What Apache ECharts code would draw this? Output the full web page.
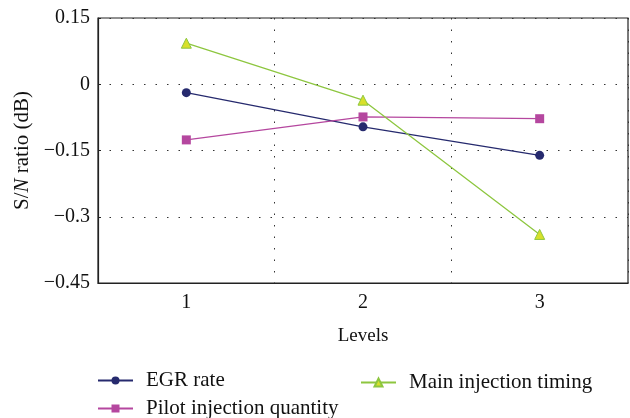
<!DOCTYPE html>
<html>
<head>
<meta charset="utf-8">
<script src="https://cdn.jsdelivr.net/npm/echarts@6/dist/echarts.min.js"></script>
<style>
  html, body { margin: 0; padding: 0; background: #fff; }
  #main { width: 630px; height: 418px; }
</style>
</head>
<body>
<div id="main"></div>
<script>
// levels on the x axis
var levels = ["1", "2", "3"];
// S/N ratio (dB) per level
var egrRate = [-0.019, -0.0965, -0.161];
var pilotQty = [-0.126, -0.074, -0.078];
var mainTiming = [0.093, -0.036, -0.34];
var yTicks = [-0.45, -0.3, -0.15, 0, 0.15];

var font = "Liberation Serif";
var myChart = echarts.init(document.getElementById("main"));

function lineSeries(name, data, color, symbol, size, fill) {
  return {
    name: name,
    type: "line",
    data: data,
    symbol: symbol,
    symbolSize: size,
    showSymbol: true,
    lineStyle: { color: color, width: 1.3 },
    itemStyle: { color: fill || color, borderColor: color, borderWidth: fill ? 1 : 0 },
    emphasis: { disabled: true },
    animation: false
  };
}

// one legend per item so the layout is two columns
function legendItem(name, left, top) {
  return {
    left: left, top: top, orient: "vertical",
    itemWidth: 35, itemHeight: 10,
    textStyle: { fontFamily: font, fontSize: 21, color: "#111", padding: [0, 0, 0, 8] },
    data: [name]
  };
}

myChart.setOption({
  textStyle: { fontFamily: font },
  grid: {
    left: 98, right: 2, top: 18, bottom: 135,
    show: true, borderColor: "#222", borderWidth: 1.2
  },
  legend: [
    legendItem("EGR rate", 92, 365),
    legendItem("Pilot injection quantity", 92, 393),
    legendItem("Main injection timing", 355, 367)
  ],
  xAxis: {
    type: "category",
    data: levels,
    boundaryGap: true,
    name: "Levels",
    nameLocation: "middle",
    nameGap: 44,
    nameTextStyle: { fontFamily: font, fontSize: 19, color: "#111" },
    axisLine: { onZero: false, lineStyle: { color: "#222", width: 1.2 } },
    axisTick: { inside: true, length: 3, lineStyle: { color: "#222" } },
    axisLabel: { fontFamily: font, fontSize: 20, color: "#111", margin: 10 },
    splitLine: { show: true, lineStyle: { color: "#333", type: [1.5, 10], width: 1 } }
  },
  yAxis: {
    type: "value",
    min: yTicks[0],
    max: yTicks[yTicks.length - 1],
    interval: 0.15,
    name: "{a|S/}{b|N}{a| ratio (dB)}",
    nameLocation: "middle",
    nameGap: 64,
    nameTextStyle: {
      rich: {
        a: { fontFamily: font, fontSize: 21, color: "#111" },
        b: { fontFamily: font, fontSize: 21, color: "#111", fontStyle: "italic" }
      }
    },
    axisLine: { show: true, lineStyle: { color: "#222", width: 1.2 } },
    axisTick: { show: true, inside: true, length: 3, lineStyle: { color: "#222" } },
    axisLabel: {
      fontFamily: font, fontSize: 20, color: "#111", margin: 8,
      formatter: function (v) {
        var s = String(Math.round(v * 100) / 100);
        return s.replace("-", "\u2212");
      }
    },
    splitLine: { show: true, lineStyle: { color: "#333", type: [1.5, 10], width: 1 } }
  },
  series: [
    lineSeries("EGR rate", egrRate, "#262a6e", "circle", 9),
    lineSeries("Pilot injection quantity", pilotQty, "#b5479f", "rect", 9),
    lineSeries("Main injection timing", mainTiming, "#8dc63f", "triangle", 10, "#d8e02a")
  ]
});
</script>
</body>
</html>
